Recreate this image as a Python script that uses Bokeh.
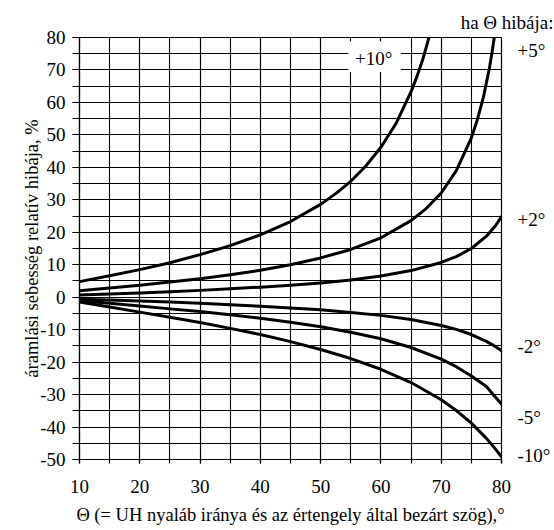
from bokeh.plotting import figure
from bokeh.models import Range1d, SingleIntervalTicker, FixedTicker, LinearAxis
from bokeh.core.properties import value
from bokeh.embed import file_html
from bokeh.resources import INLINE

# ---- data ----
x_ticks = [10, 20, 30, 40, 50, 60, 70, 80]
x_tick_labels = ["10", "20", "30", "40", "50", "60", "70", "80"]
y_ticks = [-50, -40, -30, -20, -10, 0, 10, 20, 30, 40, 50, 60, 70, 80]
y_tick_labels = ["-50", "-40", "-30", "-20", "-10", "0", "10", "20", "30",
                 "40", "50", "60", "70", "80"]

theta_p10 = [10, 15, 20, 25, 30, 35, 40, 45, 50, 52.5, 55, 57.5, 60, 62.5, 65, 66, 67, 68, 69]
err_p10 = [4.8, 6.6, 8.5, 10.6, 13.1, 15.9, 19.2, 23.3, 28.6, 31.9, 35.7, 40.4, 46.2, 53.5,
           63.3, 68.1, 73.6, 80.2, 87.8]

theta_p5 = [10, 15, 20, 25, 30, 35, 40, 45, 50, 55, 60, 65, 67.5, 70, 72.5, 75, 76, 77, 78, 78.5, 79]
err_p5 = [2.0, 2.8, 3.7, 4.7, 5.7, 6.9, 8.3, 10.0, 12.1, 14.7, 18.3, 23.6, 27.3, 32.1, 39.0,
          49.1, 54.7, 61.6, 70.6, 76.2, 82.6]

theta_rest = [10, 15, 20, 25, 30, 35, 40, 45, 50, 55, 60, 65, 70, 72.5, 75, 77.5, 79, 80]
err_p2 = [0.7, 1.0, 1.3, 1.7, 2.1, 2.6, 3.1, 3.7, 4.4, 5.3, 6.5, 8.2, 10.7, 12.5, 15.0, 18.8, 22.0, 24.8]
err_m2 = [-0.6, -0.9, -1.2, -1.5, -1.9, -2.3, -2.8, -3.3, -3.9, -4.7, -5.6, -6.9, -8.7, -9.9,
          -11.5, -13.6, -15.2, -16.5]
err_m5 = [-1.1, -1.9, -2.7, -3.6, -4.4, -5.4, -6.5, -7.7, -9.1, -10.8, -12.8, -15.5, -19.1,
          -21.4, -24.3, -27.5, -30.8, -32.9]
err_m10 = [-1.5, -3.0, -4.6, -6.2, -7.8, -9.6, -11.5, -13.7, -16.1, -18.9, -22.2, -26.3,
           -31.6, -34.9, -38.8, -43.5, -46.8, -49.2]

# right-hand curve labels and the y level where each is written
series_labels = ["+5°", "+2°", "-2°", "-5°", "-10°"]
series_label_y = [76.0, 24.0, -15.3, -37.2, -48.9]

FONT = "Liberation Serif"
W, H = 554, 530

p = figure(width=W, height=H, x_range=Range1d(10, 80), y_range=Range1d(-50, 80),
           output_backend="svg", toolbar_location=None,
           min_border_left=79, min_border_right=53, min_border_top=37, min_border_bottom=71,
           title="ha Θ hibája:")
p.background_fill_color = "white"
p.border_fill_color = "white"
p.outline_line_color = "black"
p.outline_line_width = 1.2

p.title.align = "right"
p.title.offset = -52
p.title.standoff = 10
p.title.text_font = FONT
p.title.text_font_size = "19px"
p.title.text_font_style = "normal"
p.title.text_color = "black"

xt = SingleIntervalTicker(interval=10, num_minor_ticks=2)
yt = SingleIntervalTicker(interval=10, num_minor_ticks=2)
p.xaxis.ticker = xt
p.yaxis.ticker = yt
p.xgrid.ticker = xt
p.ygrid.ticker = yt
p.xaxis.major_label_overrides = dict(zip(x_ticks, x_tick_labels))
p.yaxis.major_label_overrides = dict(zip(y_ticks, y_tick_labels))

for g in (p.xgrid, p.ygrid):
    g.grid_line_color = "black"
    g.grid_line_width = 1.1
    g.grid_line_alpha = 1.0
    g.minor_grid_line_color = "black"
    g.minor_grid_line_width = 1.1
    g.minor_grid_line_alpha = 1.0

for ax in (p.xaxis, p.yaxis):
    ax.axis_line_color = "black"
    ax.axis_line_width = 1.2
    ax.major_tick_line_color = "black"
    ax.minor_tick_line_color = "black"
    ax.major_tick_line_width = 1.2
    ax.minor_tick_line_width = 1.2
    ax.major_tick_in = 0
    ax.minor_tick_in = 0
    ax.major_label_text_font = FONT
    ax.major_label_text_font_size = "19px"
    ax.major_label_text_color = "black"
    ax.axis_label_text_font = FONT
    ax.axis_label_text_font_size = "18.5px"
    ax.axis_label_text_font_style = "normal"
    ax.axis_label_text_color = "black"

p.xaxis.major_tick_out = 4
p.xaxis.minor_tick_out = 4
p.xaxis.major_label_standoff = 16
p.xaxis.axis_label = "Θ (= UH nyaláb iránya és az értengely által bezárt szög),°"
p.xaxis.axis_label_standoff = 9
p.yaxis.major_tick_out = 7
p.yaxis.minor_tick_out = 7
p.yaxis.major_label_standoff = 7
p.yaxis.axis_label = "áramlási sebesség relatív hibája, %"
p.yaxis.axis_label_standoff = -5

# right axis used only to write the curve names
ra = LinearAxis(ticker=FixedTicker(ticks=series_label_y),
                major_label_overrides=dict(zip(series_label_y, series_labels)))
ra.axis_line_color = None
ra.major_tick_line_color = None
ra.minor_tick_line_color = None
ra.major_label_standoff = 10
ra.major_label_text_font = FONT
ra.major_label_text_font_size = "19px"
ra.major_label_text_color = "black"
p.add_layout(ra, "right")

# curves
for xs, ys in [(theta_p10, err_p10), (theta_p5, err_p5), (theta_rest, err_p2),
               (theta_rest, err_m2), (theta_rest, err_m5), (theta_rest, err_m10)]:
    p.line(xs, ys, line_color="black", line_width=3, line_join="round", line_cap="round")

# +10° label with white box
p.quad(left=[54.6], right=[63.3], bottom=[69.4], top=[78.8], fill_color="white", line_color=None)
p.text(x=[58.8], y=[73.6], text=["+10°"], text_align="center", text_baseline="middle",
       text_font=value(FONT), text_font_size="19px", text_color="black")

open("out.html", "w").write(file_html(p, INLINE))
